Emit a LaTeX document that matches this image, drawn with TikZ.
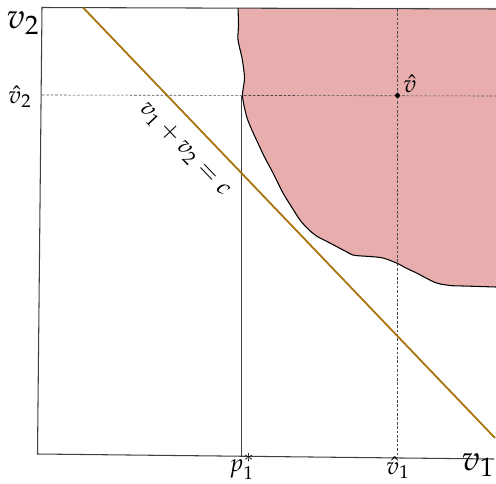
\documentclass[tikz,border=0pt]{standalone}
\usepackage{mathpazo}
\usetikzlibrary{positioning}
\definecolor{regionpink}{RGB}{232,174,174}
\definecolor{budgetbrown}{RGB}{168,112,8}
\tikzstyle{axis} = [line width=0.6pt, draw=black!75]
\tikzstyle{guide} = [dash pattern=on 1.5pt off 1pt, line width=0.35pt, draw=black!70]
\tikzstyle{budget} = [line width=1pt, draw=budgetbrown]
\tikzstyle{biglabel} = [font=\fontsize{20}{24}\selectfont, inner sep=0pt]
\tikzstyle{smalllabel} = [font=\fontsize{14}{17}\selectfont, inner sep=1pt]

\begin{document}
\begin{tikzpicture}[x=0.02cm, y=-0.02cm]
		\useasboundingbox (0,0) rectangle (496,483);
		
		% Eckpunkte des Rahmens
		\coordinate (tl) at (42,7.5);
		\coordinate (tr) at (496,9);
		\coordinate (bl) at (37.5,454);
		\coordinate (br) at (494,459);
		
		% Bereich (rot)
		\fill[regionpink] plot[smooth] coordinates {(238,8) (238.5,25) (238,40) (242,58) (244.5,78) (242.5,96)
			(246.5,116) (251,128) (256.5,140) (264,156) (273,173) (283,193) (291,206) (300,220) (308,229)
			(316.5,236) (326,241) (336.5,246.5) (345,251) (353,255) (362,256) (370,256.5) (383,258) (396.5,263)
			(406,268) (416.5,273) (426,278) (436.5,283) (450,285.5) (463,286) (480,286.5) (496,287)} -- (496,8) -- cycle;
		\draw[line width=0.6pt] plot[smooth] coordinates {(238,8) (238.5,25) (238,40) (242,58) (244.5,78) (242.5,96)
			(246.5,116) (251,128) (256.5,140) (264,156) (273,173) (283,193) (291,206) (300,220) (308,229)
			(316.5,236) (326,241) (336.5,246.5) (345,251) (353,255) (362,256) (370,256.5) (383,258) (396.5,263)
			(406,268) (416.5,273) (426,278) (436.5,283) (450,285.5) (463,286) (480,286.5) (496,287)};
		
		% Rahmen / Achsen
		\draw[axis] (tr) -- (tl) -- (bl) -- (br);
		
		% Hilfslinien
		\coordinate (vhat) at (397.5,95.5);
		\coordinate (hl) at (42,95);
		\coordinate (hr) at (496,96);
		\coordinate (vt) at (397.5,9);
		\coordinate (vb) at (397.5,458);
		\draw[guide] (hl) -- (hr);
		\draw[guide] (vt) -- (vb);
		
		% p1* Linie
		\coordinate (pt) at (241.5,96);
		\coordinate (pb) at (241.5,455.5);
		\draw[axis] (pt) -- (pb);
		
		% Budgetgerade
		\coordinate (bs) at (83,7.5);
		\coordinate (be) at (495,438);
		\draw[budget] (bs) -- node[pos=0.29, sloped, below=7pt, smalllabel, text=black] (budgetlab) {$v_1+v_2=c$} (be);
		
		% Punkt
		\fill (vhat) circle (1.4pt);
		\node (vhatlab) [smalllabel] at (410,84) {$\hat v$};
		
		% Beschriftungen
		\node (v2lab) [biglabel] at (23,23) {$v_2$};
		\node (v1lab) [biglabel] at (478,465) {$v_1$};
		\node (v2hat) [smalllabel] at (20,97) {$\hat v_2$};
		\node (p1star) [smalllabel] at (242,467) {$p_1^*$};
		\node (v1hat) [smalllabel] at (398,468) {$\hat v_1$};
		
	\end{tikzpicture}
\end{document}
